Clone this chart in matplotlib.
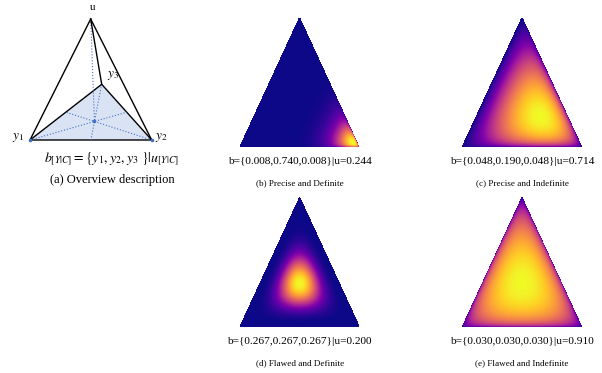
import numpy as np
import matplotlib
matplotlib.use('Agg')
import matplotlib.pyplot as plt
import matplotlib.tri as tri
from matplotlib.patches import Polygon
from math import gamma

plt.rcParams['font.family'] = ['Liberation Serif', 'DejaVu Serif']
plt.rcParams['mathtext.fontset'] = 'stix'

# subjective opinions (belief masses + uncertainty) shown in panels b-e
beliefs = [[0.008, 0.740, 0.008],
           [0.048, 0.190, 0.048],
           [0.267, 0.267, 0.267],
           [0.030, 0.030, 0.030]]
uncertainty = [0.244, 0.714, 0.200, 0.910]
captions = ['(b) Precise and Definite', '(c) Precise and Indefinite',
            '(d) Flawed and Definite', '(e) Flawed and Indefinite']
n_classes = 3
dir_prior = 1.25  # added to the evidence to get the Dirichlet concentration

# projected tetrahedron for the overview sketch (pixel coords)
tetra_apex = (90.7, 19.0)
tetra_base = [(30.0, 140.0), (151.7, 140.0), (101.7, 84.3)]  # y1, y2, y3

W, H = 602, 373
fig = plt.figure(figsize=(W / 100, H / 100), dpi=100)


def px_axes(x0, y0, x1, y1):
    return fig.add_axes([x0 / W, 1 - y1 / H, (x1 - x0) / W, (y1 - y0) / H])


# ---- (a) overview sketch ----
ax = px_axes(0, 0, 200, 190)
ax.set_xlim(0, 200)
ax.set_ylim(190, 0)
ax.axis('off')

base = np.array(tetra_base)
apex = np.array(tetra_apex)
centroid = base.mean(axis=0)
ax.add_patch(Polygon(base, closed=True, facecolor='#dae3f3', edgecolor='black', lw=1.0, zorder=1))
for v in base:
    ax.plot([apex[0], v[0]], [apex[1], v[1]], color='black', lw=1.0, zorder=3)

blue = '#4472c4'
ax.plot([apex[0], centroid[0]], [apex[1], centroid[1]], ls=':', color=blue, lw=0.8, zorder=2)
for i in range(3):
    mid = np.delete(base, i, axis=0).mean(axis=0)
    ax.plot([base[i][0], mid[0]], [base[i][1], mid[1]], ls=':', color=blue, lw=0.8, zorder=2)
ax.plot([centroid[0], base[0][0], base[1][0]], [centroid[1], base[0][1], base[1][1]],
        ls='none', marker='o', ms=1.6, color=blue, zorder=4)

ax.text(apex[0] + 2, apex[1] - 12, 'u', ha='center', va='center', fontsize=8)
ax.text(base[0][0] - 12, base[0][1] - 2, r'$y_1$', ha='center', va='center', fontsize=9.5)
ax.text(base[1][0] + 10, base[1][1] - 2, r'$y_2$', ha='center', va='center', fontsize=9.5)
ax.text(base[2][0] + 11, base[2][1] - 9, r'$y_3$', ha='center', va='center', fontsize=9.5)
ax.text(111, 159, r'$b_{[Y|C]} = \{y_1, y_2, y_3\ \}|u_{[Y|C]}$', ha='center', va='center', fontsize=10)
ax.text(112, 179.5, '(a) Overview description', ha='center', va='center', fontsize=9)

# ---- (b)-(e) Dirichlet densities on the simplex ----
corners = np.array([[0, 0], [1, 0], [0.5, np.sqrt(3) / 2]])
triangle = tri.Triangulation(corners[:, 0], corners[:, 1])
refiner = tri.UniformTriRefiner(triangle)
mesh = refiner.refine_triangulation(subdiv=8)

# barycentric coords of each mesh point
T = np.vstack([corners.T, np.ones(3)])
pts = np.vstack([mesh.x, mesh.y, np.ones_like(mesh.x)])
bary = np.linalg.solve(T, pts).T
bary = np.clip(bary, 1e-4, 1.0)
bary = bary / bary.sum(axis=1, keepdims=True)


def dirichlet_pdf(x, alpha):
    alpha = np.asarray(alpha)
    coef = gamma(alpha.sum()) / np.prod([gamma(a) for a in alpha])
    return coef * np.prod(x ** (alpha - 1), axis=1)


boxes = [(240, 17.7, 359, 146.7), (462.3, 17.7, 581.7, 146.7),
         (240, 197.3, 359.3, 326.7), (462.3, 197.3, 581.7, 326.7)]

for b, u, cap, box in zip(beliefs, uncertainty, captions, boxes):
    alpha = np.array(b) * n_classes / u + dir_prior
    z = dirichlet_pdf(bary, alpha)
    ax = px_axes(*box)
    ax.tricontourf(mesh, z, levels=200, cmap='plasma')
    ax.set_xlim(0, 1)
    ax.set_ylim(0, np.sqrt(3) / 2)
    ax.axis('off')

    cx = (box[0] + box[2]) / 2
    label = 'b={' + ','.join('%.3f' % v for v in b) + '}|u=%.3f' % u
    fig.text(cx / W, 1 - (box[3] + 14.5) / H, label, ha='center', va='center', fontsize=8.2)
    fig.text(cx / W, 1 - (box[3] + 36) / H, cap, ha='center', va='center', fontsize=6.6)

fig.savefig('out.png', dpi=100)
